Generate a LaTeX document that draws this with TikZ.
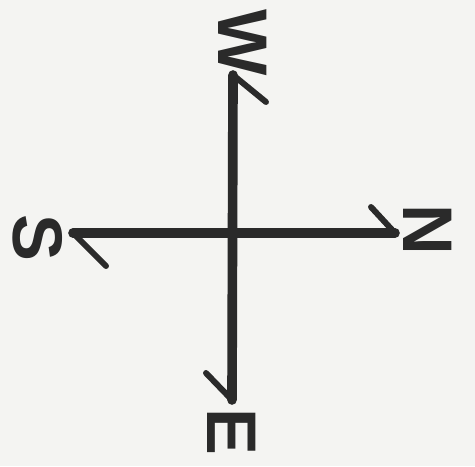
\documentclass[tikz,border=0pt]{standalone}
\usepackage{fontspec}
\setmainfont{Liberation Sans}
\definecolor{pencil}{HTML}{2A2A2A}
\definecolor{paper}{HTML}{F4F4F2}
\usepackage{tikz}
\usetikzlibrary{
    positioning,
    calc
}
\tikzstyle{shaft} = [
    line width=5.5pt,
    draw=pencil,
    line cap=round
]
\tikzstyle{barb} = [
    line width=3.4pt,
    draw=pencil,
    line cap=round
]
\tikzstyle{letter} = [
    text=pencil,
    font=\fontsize{40}{40}\selectfont\bfseries,
    rotate=-90,
    inner sep=0pt
]

\begin{document}
\begin{tikzpicture}[x=0.02cm, y=-0.02cm]
        % Paper
        \fill[paper] (0,0) rectangle (475,466);
        \useasboundingbox (0,0) rectangle (475,466);

        % Ends of the two strokes
        \coordinate (wtip) at (233,75);
        \coordinate (etip) at (232,400);
        \coordinate (stip) at (73,233);
        \coordinate (ntip) at (395,233);

        % Cross
        \draw[shaft] (etip) -- (wtip);
        \draw[shaft] (stip) -- (ntip);

        % Half arrowheads
        \coordinate (wbarb) at (266,102);
        \coordinate (ebarb) at (206,373);
        \coordinate (sbarb) at (106,266);
        \coordinate (nbarb) at (371,207);
        \draw[barb] (wtip) -- (wbarb);
        \draw[barb] (etip) -- (ebarb);
        \draw[barb] (stip) -- (sbarb);
        \draw[barb] (ntip) -- (nbarb);

        % Letters, turned a quarter clockwise
        \node[letter] (west) at (243,43) {W};
        \node[letter] (east) at (232,432) {E};
        \node[letter] (south) at (38,238) {S};
        \node[letter] (north) at (428,230) {N};
    \end{tikzpicture}
\end{document}
